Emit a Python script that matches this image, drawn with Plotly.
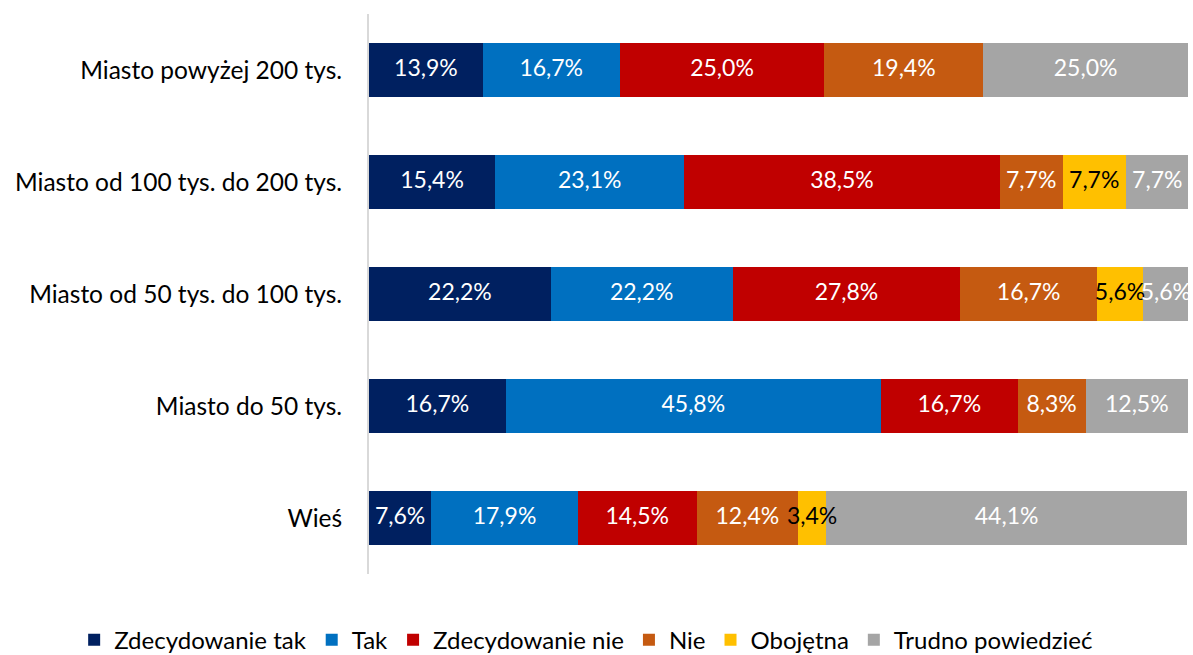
import plotly.graph_objects as go
import numpy as np

categories = ["Miasto powyżej 200 tys.", "Miasto od 100 tys. do 200 tys.",
              "Miasto od 50 tys. do 100 tys.", "Miasto do 50 tys.", "Wieś"]
series_names = ["Zdecydowanie tak", "Tak", "Zdecydowanie nie", "Nie", "Obojętna", "Trudno powiedzieć"]
zdecydowanie_tak = [13.9, 15.4, 22.2, 16.7, 7.6]
tak = [16.7, 23.1, 22.2, 45.8, 17.9]
zdecydowanie_nie = [25.0, 38.5, 27.8, 16.7, 14.5]
nie = [19.4, 7.7, 16.7, 8.3, 12.4]
obojetna = [0.0, 7.7, 5.6, 0.0, 3.4]
trudno = [25.0, 7.7, 5.6, 12.5, 44.1]

series = [zdecydowanie_tak, tak, zdecydowanie_nie, nie, obojetna, trudno]
colors = ["#002060", "#0070C0", "#C00000", "#C55A11", "#FFC000", "#A5A5A5"]
text_colors = ["white", "white", "white", "white", "black", "white"]

FONT = "Lato"

fig = go.Figure()
cum = np.zeros(len(categories))
for name, vals, col, tcol in zip(series_names, series, colors, text_colors):
    v = np.array(vals)
    fig.add_trace(go.Bar(
        y=categories, x=v, name=name, orientation="h",
        marker=dict(color=col, line=dict(width=0)),
        hoverinfo="x+name",
    ))
    centers = cum + v / 2
    labels = [(f"{x:.1f}".replace(".", ",") + "%") if x > 0 else "" for x in v]
    fig.add_trace(go.Scatter(
        y=categories, x=centers, mode="text", text=labels,
        textposition="middle center",
        textfont=dict(family=FONT, size=23, color=tcol),
        showlegend=False, hoverinfo="skip", cliponaxis=False,
    ))
    cum = cum + v

fig.update_layout(
    barmode="stack",
    bargap=0.51,
    width=1193, height=655,
    margin=dict(l=369, r=5, t=14, b=81, autoexpand=False),
    plot_bgcolor="white", paper_bgcolor="white",
    font=dict(family=FONT, size=24, color="black"),
    xaxis=dict(range=[0, 100], showgrid=False, zeroline=False,
               showticklabels=False, showline=False, fixedrange=True,
               automargin=False),
    yaxis=dict(autorange="reversed", showgrid=False, zeroline=False,
               showline=True, linecolor="#D9D9D9", linewidth=2,
               ticks="", ticklabelstandoff=20, automargin=False,
               tickfont=dict(family=FONT, size=24.5, color="black")),
    legend=dict(orientation="h", xref="paper", yref="paper",
                x=-0.360, xanchor="left", y=-0.118, yanchor="middle",
                font=dict(family=FONT, size=24, color="black"),
                itemwidth=30, tracegroupgap=0, traceorder="normal"),
)

fig.write_html("out.html",
               config={"displayModeBar": False},
               post_script="document.body.style.margin='0';document.body.style.overflow='hidden';")
